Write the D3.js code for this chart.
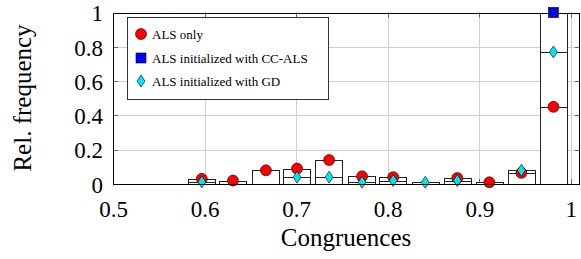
<!DOCTYPE html>
<html>
<head>
<meta charset="utf-8">
<script src="https://cdn.jsdelivr.net/npm/d3@7"></script>
<style>
  body { margin: 0; background: #fff; }
  svg text { font-family: "Liberation Serif" !important; }
</style>
</head>
<body>
<svg id="chart" width="581" height="259" font-family="Liberation Serif"></svg>
<script>
// bin centres (congruence) and relative frequencies per method
const binCenters = [0.597, 0.631, 0.667, 0.701, 0.736, 0.772, 0.806, 0.841, 0.876, 0.911, 0.946, 0.981];
const alsOnly    = [0.03, 0.02, 0.08, 0.09, 0.14, 0.045, 0.04, 0, 0.035, 0.01, 0.065, 0.45];
const alsCcAls   = [0, 0, 0, 0, 0, 0, 0, 0, 0, 0, 0, 1];
const alsGd      = [0.012, 0, 0, 0.04, 0.04, 0.01, 0.02, 0.01, 0.02, 0, 0.08, 0.77];

const xTicks = [0.5, 0.6, 0.7, 0.8, 0.9, 1];
const yTicks = [0, 0.2, 0.4, 0.6, 0.8, 1];
const seriesNames = ["ALS only", "ALS initialized with CC-ALS", "ALS initialized with GD"];

const fontName = "Liberation Serif";
const svg = d3.select("#chart");

const x = d3.scaleLinear().domain([0.5, 1.01]).range([113, 580]);
const y = d3.scaleLinear().domain([0, 1]).range([184, 12.5]);
const barW = 0.03; // bar width in data units

// grid
const grid = svg.append("g");
xTicks.slice(1).forEach(t => {
  grid.append("line")
    .attr("x1", Math.round(x(t)) + 0.5).attr("x2", Math.round(x(t)) + 0.5)
    .attr("y1", y(1)).attr("y2", y(0))
    .attr("stroke", "#cfcfcf").attr("stroke-width", 1);
});
yTicks.slice(1, -1).forEach(t => {
  grid.append("line")
    .attr("x1", x(0.5)).attr("x2", x(1.01))
    .attr("y1", Math.round(y(t)) + 0.5).attr("y2", Math.round(y(t)) + 0.5)
    .attr("stroke", "#cfcfcf").attr("stroke-width", 1);
});

// small tick marks inside the box
const tk = svg.append("g").attr("stroke", "#666").attr("stroke-width", 1);
xTicks.slice(1).forEach(t => {
  const px = Math.round(x(t)) + 0.5;
  tk.append("line").attr("x1", px).attr("x2", px).attr("y1", y(0)).attr("y2", y(0) - 5);
  tk.append("line").attr("x1", px).attr("x2", px).attr("y1", y(1)).attr("y2", y(1) + 5);
});
yTicks.slice(1, -1).forEach(t => {
  const py = Math.round(y(t)) + 0.5;
  tk.append("line").attr("x1", x(0.5)).attr("x2", x(0.5) + 5).attr("y1", py).attr("y2", py);
  tk.append("line").attr("x1", x(1.01)).attr("x2", x(1.01) - 5).attr("y1", py).attr("y2", py);
});

// bars: in each bin draw tallest first so every top edge stays visible
const bars = svg.append("g");
binCenters.forEach((c, i) => {
  const vals = [alsOnly[i], alsCcAls[i], alsGd[i]].filter(v => v > 0).sort((a, b) => b - a);
  vals.forEach(v => {
    bars.append("rect")
      .attr("x", Math.round(x(c - barW / 2)) + 0.5)
      .attr("width", Math.round(x(c + barW / 2) - x(c - barW / 2)))
      .attr("y", Math.round(y(v)) + 0.5)
      .attr("height", Math.max(0, Math.round(y(0)) - Math.round(y(v))))
      .attr("fill", "#fff")
      .attr("stroke", "#222")
      .attr("stroke-width", 1);
  });
});

// markers
function drawMarker(g, kind, cx, cy) {
  if (kind === 0) {
    g.append("circle").attr("cx", cx).attr("cy", cy).attr("r", 5.5)
      .attr("fill", "#ff0000").attr("stroke", "#000").attr("stroke-width", 0.6);
  } else if (kind === 1) {
    g.append("rect").attr("x", cx - 5).attr("y", cy - 5).attr("width", 10).attr("height", 10)
      .attr("fill", "#0000ff").attr("stroke", "#000").attr("stroke-width", 0.6);
  } else {
    g.append("path")
      .attr("d", `M${cx},${cy - 6}L${cx + 4},${cy}L${cx},${cy + 6}L${cx - 4},${cy}Z`)
      .attr("fill", "#00e5f5").attr("stroke", "#000").attr("stroke-width", 0.6);
  }
}
const marks = svg.append("g");
[alsOnly, alsCcAls, alsGd].forEach((series, k) => {
  series.forEach((v, i) => {
    if (v > 0) drawMarker(marks, k, x(binCenters[i]), y(v));
  });
});

// axis box
svg.append("rect")
  .attr("x", x(0.5) + 0.5).attr("y", Math.round(y(1)) + 0.5)
  .attr("width", Math.round(x(1.01) - x(0.5)) - 1)
  .attr("height", Math.round(y(0)) - Math.round(y(1)))
  .attr("fill", "none").attr("stroke", "#000").attr("stroke-width", 1);

// tick labels
const xAxis = d3.axisBottom(x).tickValues(xTicks).tickSize(0).tickPadding(0).tickFormat(d => String(d));
svg.append("g").attr("transform", `translate(0, 200)`).call(xAxis)
  .attr("font-family", fontName)
  .call(g => g.select(".domain").remove())
  .selectAll("text").attr("font-size", 23).attr("dy", "0.72em").attr("fill", "#000")
  .attr("font-family", fontName);

const yAxis = d3.axisLeft(y).tickValues(yTicks).tickSize(0).tickPadding(0).tickFormat(d => String(d));
svg.append("g").attr("transform", `translate(103, 0)`).call(yAxis)
  .attr("font-family", fontName)
  .call(g => g.select(".domain").remove())
  .selectAll("text").attr("font-size", 23).attr("dy", "0.36em").attr("fill", "#000")
  .attr("font-family", fontName);

// axis titles
svg.append("text").attr("x", 346).attr("y", 246).attr("text-anchor", "middle")
  .attr("font-size", 25).attr("font-family", fontName).text("Congruences");
svg.append("text").attr("transform", "translate(31, 98) rotate(-90)")
  .attr("text-anchor", "middle").attr("font-size", 25).attr("font-family", fontName)
  .text("Rel. frequency");

// legend
const legend = svg.append("g");
legend.append("rect").attr("x", 127.5).attr("y", 17.5).attr("width", 201).attr("height", 82)
  .attr("fill", "#fff").attr("stroke", "#333").attr("stroke-width", 1);
const legendY = [34, 58, 81];
seriesNames.forEach((name, k) => {
  drawMarker(legend, k, 141, legendY[k]);
  legend.append("text").attr("x", 152).attr("y", legendY[k] + 4.5)
    .attr("font-size", 13).attr("font-family", fontName).text(name);
});
</script>
</body>
</html>
